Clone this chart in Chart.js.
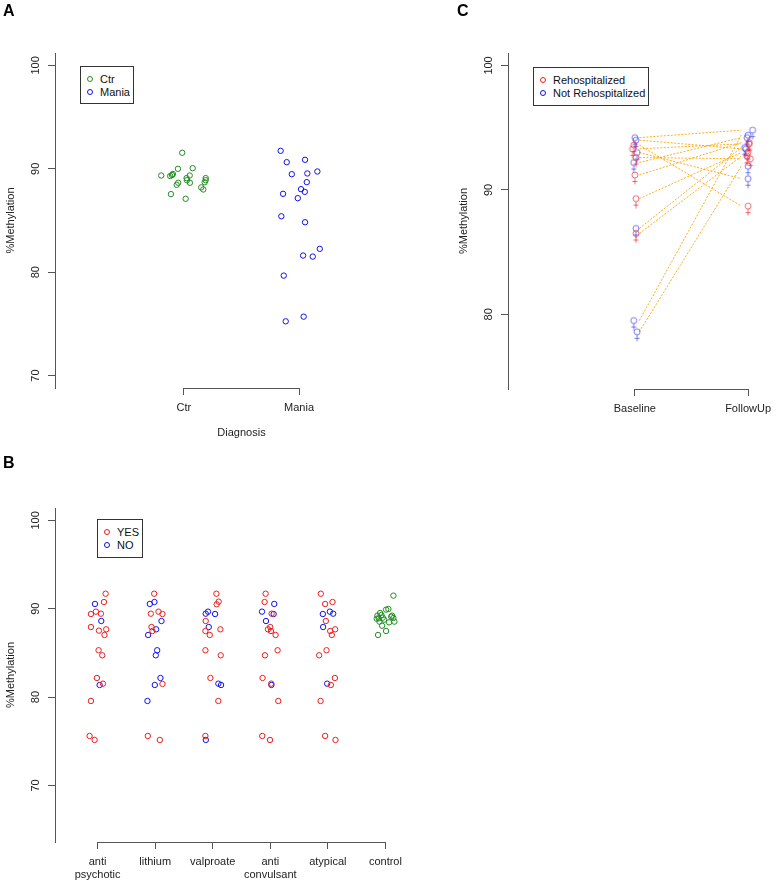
<!DOCTYPE html>
<html><head><meta charset="utf-8">
<script src="https://cdn.jsdelivr.net/npm/chart.js@4/dist/chart.umd.min.js"></script>
<style>
html,body{margin:0;padding:0;background:#fff;width:777px;height:881px;overflow:hidden;font-family:"Liberation Sans",Arial,sans-serif;}
canvas{position:absolute;}
.lbl{position:absolute;font-weight:bold;font-size:16px;line-height:16px;color:#000;}
.leg{position:absolute;border:1px solid #333;box-sizing:border-box;background:#fff;}
.legtxt{position:absolute;font-size:11px;line-height:13px;color:#111;white-space:nowrap;}
.legdot{position:absolute;width:6px;height:6px;border:1px solid;border-radius:50%;box-sizing:border-box;}
</style></head><body>
<canvas id="cA" width="428" height="440" style="left:0;top:0;width:428px;height:440px"></canvas>
<canvas id="cB" width="428" height="441" style="left:0;top:440px;width:428px;height:441px"></canvas>
<canvas id="cC" width="387" height="440" style="left:390px;top:0;width:387px;height:440px"></canvas>
<div class="lbl" style="left:3px;top:3px">A</div>
<div class="lbl" style="left:3px;top:455px">B</div>
<div class="lbl" style="left:457px;top:3px">C</div>
<div id="legends"></div>
<script>
// ---------- Panel A data ----------
const diagCategories = ['Ctr', 'Mania'];
const ctrX = [0.985, 0.803, 0.881, 0.896, 0.904, 0.948, 1.076, 1.050, 1.023, 1.026, 1.052, 0.950, 0.937, 1.189, 1.189, 1.180, 1.150, 1.168, 0.887, 1.015];
const ctrY = [91.55, 89.35, 89.30, 89.40, 89.50, 90.00, 90.06, 89.35, 89.10, 88.90, 88.65, 88.65, 88.45, 89.10, 88.90, 88.70, 88.20, 88.00, 87.55, 87.10];
const maniaX = [1.840, 1.893, 2.052, 1.937, 2.072, 2.159, 2.067, 2.017, 2.050, 1.861, 1.989, 1.846, 2.052, 2.180, 2.035, 2.119, 1.867, 2.040, 1.884];
const maniaY = [91.74, 90.64, 90.87, 89.48, 89.55, 89.74, 88.71, 88.03, 87.77, 87.58, 87.16, 85.41, 84.83, 82.26, 81.61, 81.51, 79.67, 75.70, 75.25];
const yTicksA = [70, 80, 90, 100];

// ---------- Panel B data ----------
const medCategories = [['anti', 'psychotic'], 'lithium', 'valproate', ['anti', 'convulsant'], 'atypical', 'control'];
const yesX = [1.139, 1.110, 0.884, 0.971, 1.058, 0.884, 1.023, 1.150, 1.120, 1.017, 1.081, 0.988, 1.093, 0.884, 0.861, 0.948,
  1.983, 1.925, 2.058, 2.127, 1.936, 1.953, 2.127, 1.873, 2.081,
  3.064, 3.104, 3.069, 2.878, 2.873, 2.948, 3.133, 2.873, 3.139, 2.960, 3.098, 2.873,
  3.919, 3.901, 4.023, 4.000, 3.960, 4.012, 4.092, 4.127, 3.908, 3.866, 4.017, 4.139, 3.861, 3.995,
  4.878, 5.081, 4.953, 4.965, 5.041, 5.127, 5.069, 4.977, 4.849, 5.122, 5.052, 4.874, 4.953, 5.133];
const yesY = [91.70, 90.76, 89.40, 89.67, 89.44, 87.93, 87.52, 87.67, 87.03, 85.30, 84.73, 82.16, 81.52, 79.56, 75.60, 75.15,
  91.70, 89.44, 89.67, 89.40, 87.93, 87.48, 81.49, 75.60, 75.15,
  91.70, 90.80, 90.50, 88.61, 87.48, 87.03, 87.67, 85.30, 84.73, 82.16, 79.56, 75.60,
  91.70, 90.76, 89.44, 87.93, 87.67, 87.48, 87.03, 85.30, 84.73, 82.16, 81.52, 79.56, 75.60, 75.15,
  91.70, 90.76, 90.54, 88.61, 87.48, 87.67, 87.03, 85.30, 84.73, 82.16, 81.37, 79.56, 75.60, 75.15];
const noX = [0.954, 1.064, 1.035,
  1.907, 1.988, 2.110, 2.017, 1.878, 2.035, 2.011, 2.092, 1.994, 1.866,
  2.878, 2.918, 3.041, 2.931, 3.098, 3.145, 2.880,
  4.069, 3.856, 4.058, 3.925, 4.020,
  4.913, 5.035, 5.093, 4.918, 4.988];
const noY = [90.54, 88.61, 81.37,
  90.54, 90.76, 88.61, 87.67, 87.03, 85.30, 84.73, 82.16, 81.37, 79.56,
  89.44, 89.67, 89.40, 87.93, 81.52, 81.37, 75.15,
  90.54, 89.67, 89.40, 88.61, 81.37,
  89.40, 89.67, 89.44, 87.93, 81.52];
const controlX = [6.139, 6.012, 6.052, 5.861, 5.908, 5.931, 5.849, 5.884, 5.954, 6.116, 6.139, 5.896, 5.977, 6.064, 6.156, 5.942, 6.012, 5.873, 6.100];
const controlY = [91.48, 89.90, 89.97, 89.22, 89.52, 89.29, 88.88, 88.91, 88.99, 89.22, 88.95, 88.54, 88.76, 88.46, 88.54, 88.08, 87.48, 87.03, 89.10];
const yTicksB = [70, 80, 90, 100];

// ---------- Panel C data ----------
const timeCategories = ['Baseline', 'FollowUp'];
const baselineVals = [94.2, 94.0, 93.6, 93.3, 93.0, 92.2, 92.6, 91.2, 89.3, 86.9, 86.5, 79.5, 78.6];
const followupVals = [94.8, 93.3, 88.7, 93.7, 90.9, 94.2, 92.5, 93.8, 93.0, 93.4, 92.7, 94.4, 91.9];
const rehosp = ['N', 'N', 'R', 'R', 'N', 'N', 'R', 'R', 'R', 'N', 'R', 'N', 'N'];
const baselineJitter = [1.00, 1.01, 0.99, 0.98, 1.02, 0.99, 1.01, 1.00, 1.01, 1.01, 1.01, 0.99, 1.02];
const followupJitter = [2.04, 1.98, 2.00, 2.01, 2.00, 1.99, 2.02, 2.01, 2.00, 1.97, 1.99, 2.00, 2.00];
const yTicksC = [80, 90, 100];

// ---------- styling ----------
const AX = '#555';
const TX = '#222';
const GREEN = '#228B22', BLUE = '#1010f0', RED = '#ee1c1c';
Chart.defaults.font.family = '"Liberation Sans", Arial, sans-serif';
Chart.defaults.font.size = 11;

function pts(xs, ys) { return xs.map((x, i) => ({ x: x, y: ys[i] })); }
function circleSet(label, xs, ys, color) {
  return { label, data: pts(xs, ys), pointStyle: 'circle', pointRadius: 2.7, pointBorderWidth: 1,
    borderColor: color, backgroundColor: 'rgba(0,0,0,0)', pointHoverRadius: 2.7 };
}
function yAxis(min, max, ticks) {
  return {
    type: 'linear', min, max, position: 'left',
    afterBuildTicks: s => { s.ticks = ticks.map(v => ({ value: v })); },
    afterFit: s => { s.width = 55; },
    border: { display: true, color: AX, width: 1 },
    grid: { drawOnChartArea: false, drawTicks: true, tickLength: 7, color: AX, tickColor: AX, lineWidth: 1 },
    ticks: { minRotation: 90, maxRotation: 90, crossAlign: 'center', padding: 3, color: TX, font: { size: 11 } },
    title: { display: true, text: '%Methylation', color: TX, font: { size: 11 }, padding: { top: 4, bottom: 0 } }
  };
}
function xAxis(min, max, labels, height, title) {
  return {
    type: 'linear', min, max, position: 'bottom',
    afterBuildTicks: s => { s.ticks = labels.map((l, i) => ({ value: i + 1 })); },
    afterFit: s => { s.height = height; },
    border: { display: false },
    grid: { drawOnChartArea: false, drawTicks: true, tickLength: 7, color: AX, tickColor: AX, lineWidth: 1 },
    ticks: { autoSkip: false, minRotation: 0, maxRotation: 0, padding: 6, color: TX, font: { size: 11 },
      callback: v => labels[Math.round(v) - 1] },
    title: title ? { display: true, text: title, color: TX, font: { size: 11 }, padding: { top: 0, bottom: 0 } } : { display: false }
  };
}
const bracket = {
  id: 'bracket',
  afterDraw(chart) {
    const xs = chart.scales.x, t = xs.ticks, ctx = chart.ctx;
    const a = v => Math.round(v - 0.5) + 0.5;
    const y = a(chart.chartArea.bottom);
    ctx.save();
    ctx.strokeStyle = AX; ctx.lineWidth = 1;
    ctx.beginPath();
    ctx.moveTo(a(xs.getPixelForValue(t[0].value)), y);
    ctx.lineTo(a(xs.getPixelForValue(t[t.length - 1].value)), y);
    ctx.stroke();
    ctx.restore();
  }
};
function baseOpts(padding, xs, ys) {
  return {
    responsive: false, animation: false, devicePixelRatio: 1,
    layout: { padding, autoPadding: false },
    plugins: { legend: { display: false }, tooltip: { enabled: false } },
    scales: { x: xs, y: ys },
    events: []
  };
}

// ---------- Panel A ----------
new Chart(document.getElementById('cA'), {
  type: 'scatter',
  data: { datasets: [circleSet('Ctr', ctrX, ctrY, GREEN), circleSet('Mania', maniaX, maniaY, BLUE)] },
  options: baseOpts({ top: 53, left: 0, right: 0, bottom: 0 },
    xAxis(-0.12, 3.12, diagCategories, 52, 'Diagnosis'), yAxis(68.8, 101.2, yTicksA)),
  plugins: [bracket]
});

// ---------- Panel B ----------
new Chart(document.getElementById('cB'), {
  type: 'scatter',
  data: { datasets: [circleSet('YES', yesX, yesY, RED), circleSet('NO', noX, noY, BLUE), circleSet('control', controlX, controlY, GREEN)] },
  options: baseOpts({ top: 68, left: 0, right: 0, bottom: 0 },
    xAxis(0.26, 6.74, medCategories, 39, null), yAxis(63.6, 101.4, yTicksB)),
  plugins: [bracket]
});

// ---------- Panel C ----------
function femaleGlyph(color) {
  const c = document.createElement('canvas');
  c.width = 12; c.height = 20;
  const g = c.getContext('2d');
  g.strokeStyle = color; g.lineWidth = 1;
  g.beginPath(); g.arc(6, 10, 3, 0, Math.PI * 2); g.stroke();
  g.beginPath(); g.moveTo(6, 13); g.lineTo(6, 19.5); g.moveTo(3.5, 16.5); g.lineTo(8.5, 16.5); g.stroke();
  return c;
}
const glyphR = femaleGlyph('rgba(235,30,40,0.65)');
const glyphN = femaleGlyph('rgba(40,40,230,0.6)');
const LINE_X0 = 1.04, LINE_X1 = 1.94;
const cSets = [];
['R', 'N'].forEach(grp => {
  const data = [];
  rehosp.forEach((r, i) => {
    if (r !== grp) return;
    data.push({ x: baselineJitter[i], y: baselineVals[i] });
    data.push({ x: followupJitter[i], y: followupVals[i] });
  });
  cSets.push({ label: grp, data, pointStyle: grp === 'R' ? glyphR : glyphN, pointRadius: 5, showLine: false });
});
baselineVals.forEach((b, i) => {
  cSets.push({ label: 'pair' + i, data: [{ x: LINE_X0, y: b }, { x: LINE_X1, y: followupVals[i] }],
    showLine: true, borderColor: 'rgba(255,165,0,0.9)', borderWidth: 1, borderDash: [2, 1.5],
    pointRadius: 0, fill: false });
});
new Chart(document.getElementById('cC'), {
  type: 'scatter',
  data: { datasets: cSets },
  options: baseOpts({ top: 53, left: 63, right: 0, bottom: 0 },
    xAxis(-0.12, 2.219, timeCategories, 51, null), yAxis(74, 101, yTicksC)),
  plugins: [bracket]
});

// ---------- legends (HTML) ----------
function makeLegend(left, top, w, h, items) {
  const box = document.createElement('div');
  box.className = 'leg';
  box.style.cssText = `left:${left}px;top:${top}px;width:${w}px;height:${h}px;`;
  document.body.appendChild(box);
  items.forEach((it, k) => {
    const cy = top + 13.3 + k * 12.8;
    const dot = document.createElement('div');
    dot.className = 'legdot';
    dot.style.cssText = `left:${left + 7}px;top:${cy - 3}px;border-color:${it.color};`;
    document.body.appendChild(dot);
    const t = document.createElement('div');
    t.className = 'legtxt';
    t.style.cssText = `left:${left + 20}px;top:${cy - 6.4}px;`;
    t.textContent = it.label;
    document.body.appendChild(t);
  });
}
makeLegend(80, 66, 54, 38, [{ label: diagCategories[0], color: GREEN }, { label: diagCategories[1], color: BLUE }]);
makeLegend(97, 519, 46, 39, [{ label: 'YES', color: RED }, { label: 'NO', color: BLUE }]);
makeLegend(533, 67, 116, 39, [{ label: 'Rehospitalized', color: RED }, { label: 'Not Rehospitalized', color: BLUE }]);
</script>
</body></html>
